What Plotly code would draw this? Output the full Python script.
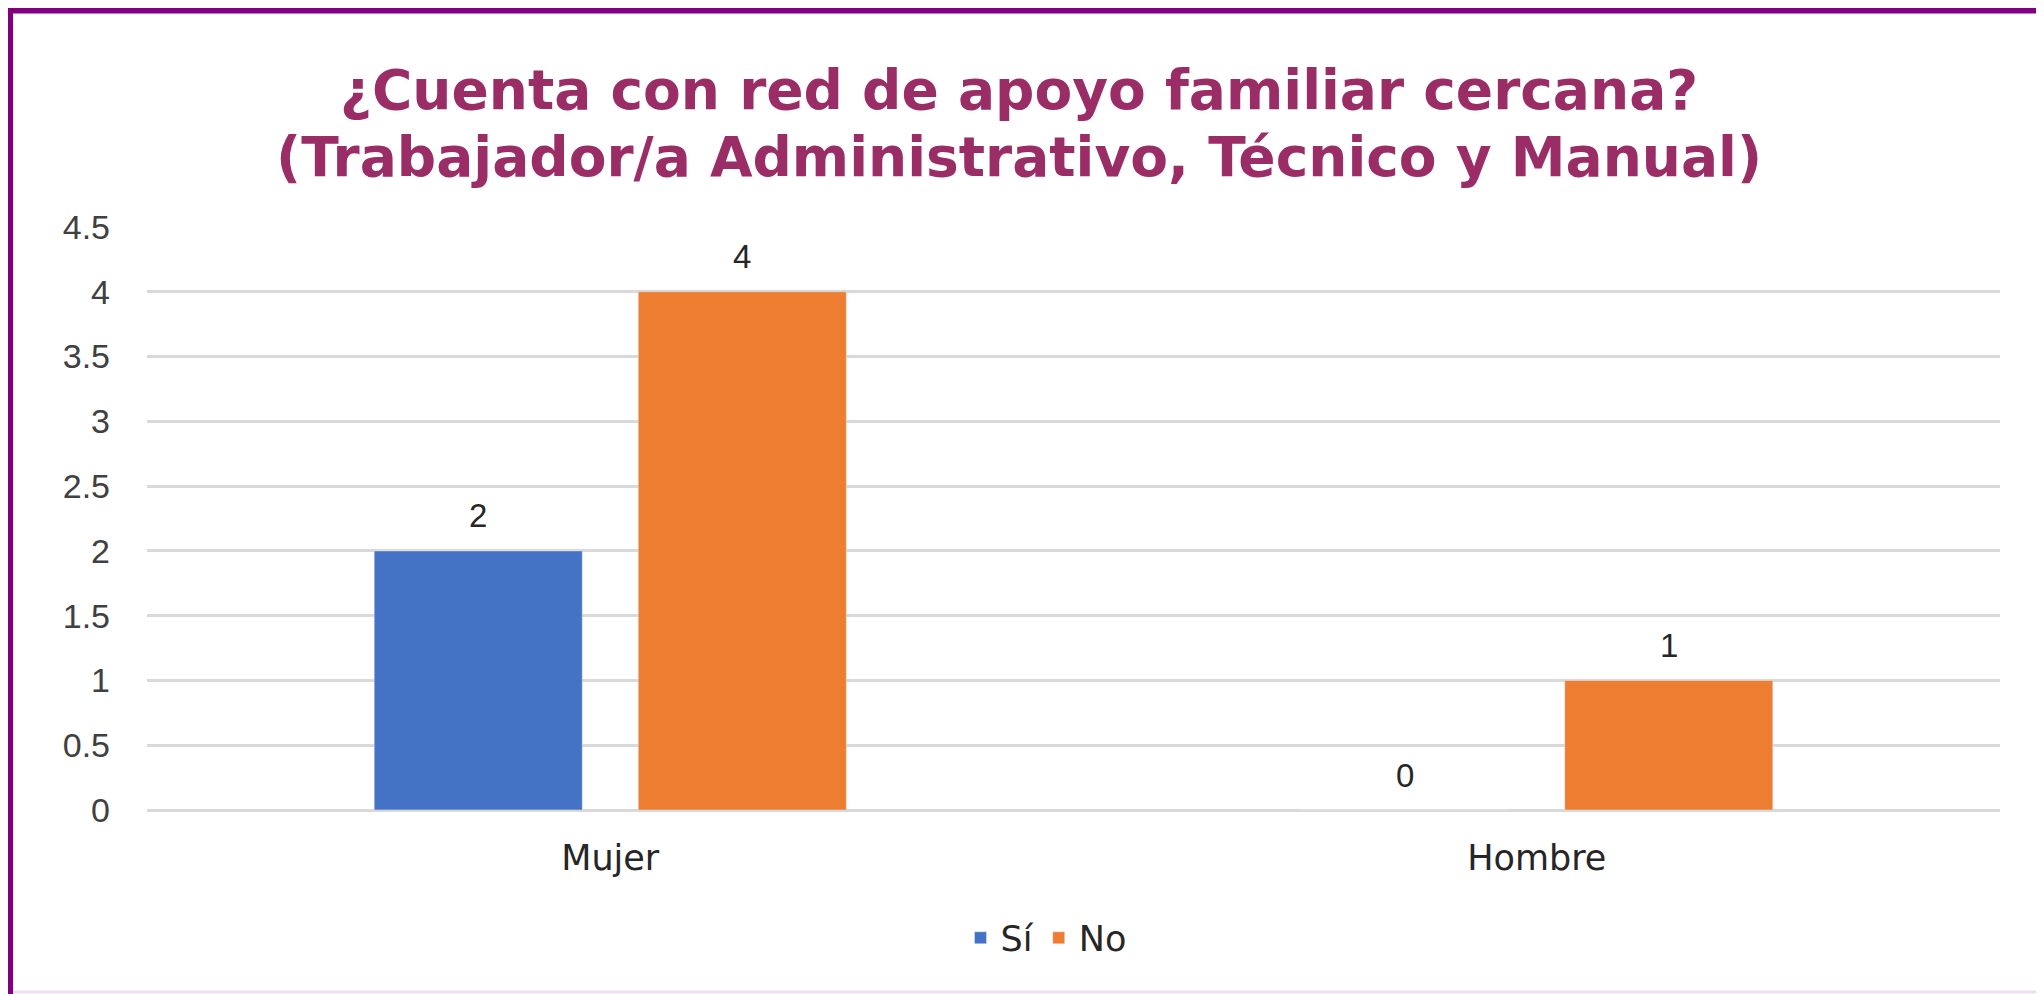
import plotly.graph_objects as go

# data
categories = ["Mujer", "Hombre"]
si_values = [2, 0]
no_values = [4, 1]
series_names = ["Sí", "No"]
y_ticks = [0, 0.5, 1, 1.5, 2, 2.5, 3, 3.5, 4, 4.5]
y_tick_text = ["0", "0.5", "1", "1.5", "2", "2.5", "3", "3.5", "4", "4.5"]
title_lines = ["¿Cuenta con red de apoyo familiar cercana?",
               "(Trabajador/a Administrativo, Técnico y Manual)"]

W, H = 2044, 994
ML, MR, MT, MB = 139, 52, 219, 192
BARGAP, GROUPGAP = 0.43, 0.212

pw = W - ML - MR
ph = H - MT - MB


# helpers to place layout items (frame, title, legend) in paper units from pixels
def px_x(p):
    return (p - ML) / pw


def px_y(p):
    return (H - MB - p) / ph


fig = go.Figure()
fig.add_trace(go.Bar(x=categories, y=si_values, name=series_names[0],
                     marker_color="#4472C4"))
fig.add_trace(go.Bar(x=categories, y=no_values, name=series_names[1],
                     marker_color="#ED7D31"))

# value labels above each bar (offset to each bar's slot in the group)
slot = pw / len(categories) * (1 - BARGAP) / 2
for vals, shift in [(si_values, -slot / 2), (no_values, slot / 2)]:
    for cat, v in zip(categories, vals):
        fig.add_annotation(
            x=cat, y=v, xref="x", yref="y", text=str(v), showarrow=False,
            xshift=shift, yshift=35, yanchor="middle",
            font=dict(family="Liberation Sans", size=33, color="#262626"),
        )

# title, two lines
for line, fy in zip(title_lines, [82, 149]):
    fig.add_annotation(
        x=px_x(1011), y=px_y(fy), xref="paper", yref="paper",
        text="<b>%s</b>" % line, showarrow=False,
        xanchor="center", yanchor="middle",
        font=dict(family="DejaVu Sans", size=55, color="#9B2D66"),
    )

# purple frame: top and left edges, faint bottom edge
fig.add_shape(type="line", xref="paper", yref="paper",
              x0=px_x(-5), x1=px_x(W + 10), y0=px_y(2.5), y1=px_y(2.5),
              line=dict(color="#800080", width=6))
fig.add_shape(type="line", xref="paper", yref="paper",
              x0=px_x(2), x1=px_x(2), y0=px_y(-5), y1=px_y(H + 10),
              line=dict(color="#800080", width=6))
fig.add_shape(type="line", xref="paper", yref="paper",
              x0=px_x(5), x1=px_x(W + 10), y0=px_y(984), y1=px_y(984),
              line=dict(color="#F0DDF0", width=3))

fig.update_layout(
    width=W, height=H,
    margin=dict(l=ML, r=MR, t=MT, b=MB),
    paper_bgcolor="white",
    plot_bgcolor="white",
    barmode="group",
    bargap=BARGAP,
    bargroupgap=GROUPGAP,
    showlegend=True,
    legend=dict(
        orientation="h",
        x=px_x(1038), xanchor="center",
        y=px_y(930), yanchor="middle",
        font=dict(family="DejaVu Sans", size=35, color="#262626"),
        itemwidth=30,
    ),
)

fig.update_xaxes(
    showline=False, showgrid=False, ticks="",
    tickfont=dict(family="DejaVu Sans", size=35, color="#262626"),
    ticklabelstandoff=24,
)
fig.update_yaxes(
    range=[0, 4.5],
    tickvals=y_ticks, ticktext=y_tick_text,
    showline=False, ticks="",
    showgrid=True, gridcolor="#D9D9D9", gridwidth=3,
    zeroline=True, zerolinecolor="#D9D9D9", zerolinewidth=3,
    tickfont=dict(family="Liberation Sans", size=34, color="#404040"),
    ticklabelstandoff=36,
)

fig.write_html("out.html")
